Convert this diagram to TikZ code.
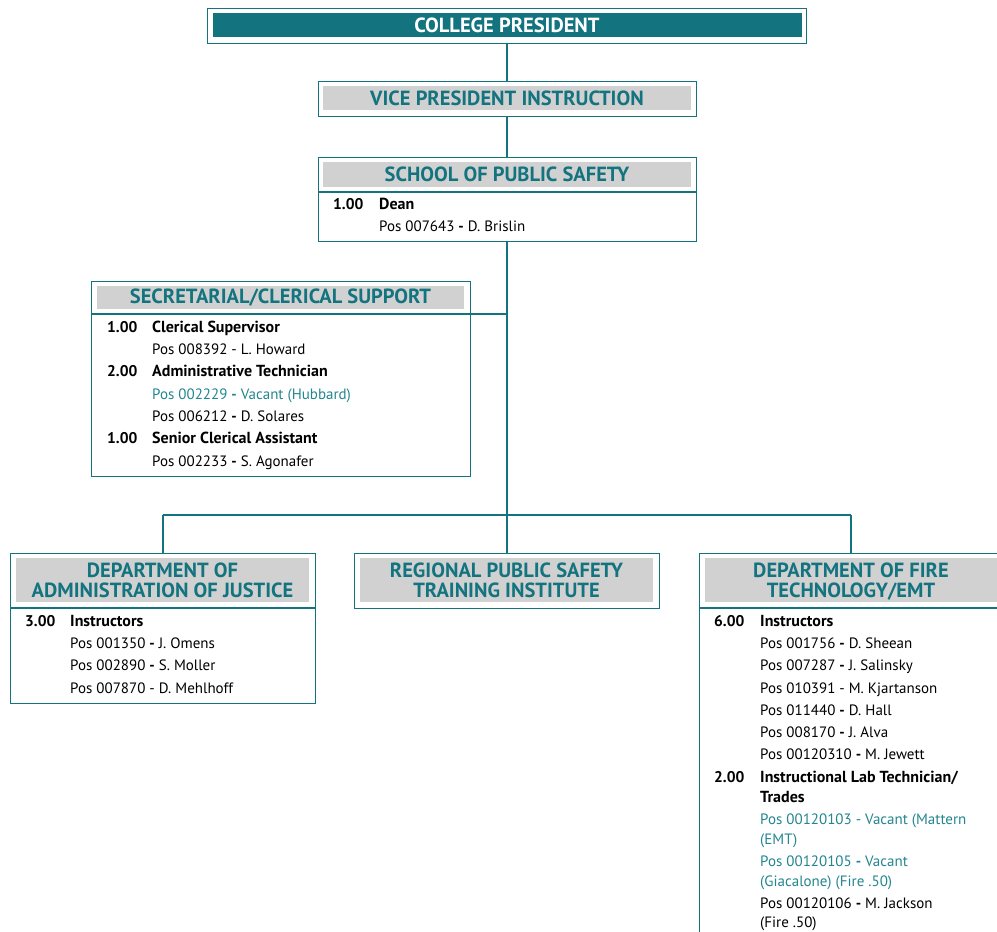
\documentclass[tikz,border=0pt]{standalone}
\usepackage{fontspec}
\setmainfont{PT Sans}
\definecolor{teal1}{HTML}{137480}
\definecolor{teal2}{HTML}{23858F}
\definecolor{gray1}{HTML}{D1D1D1}
\begin{document}
\begin{tikzpicture}[x=1pt,y=-1pt,
  box/.style={draw=teal1, line width=1pt, inner sep=0pt, outer sep=0pt, anchor=north west},
  hdr/.style={fill=gray1, anchor=north west, inner sep=0pt, outer sep=0pt, text=teal1, align=center,
    font=\bfseries\fontsize{20.5}{20}\selectfont},
  row/.style={anchor=base west, inner sep=0pt, font=\fontsize{15}{16}\selectfont},
  num/.style={row, font=\bfseries\fontsize{15.5}{16}\selectfont},
  ttl/.style={row, font=\bfseries\fontsize{16}{16}\selectfont},
  vac/.style={row, text=teal2},
  conn/.style={draw=teal1, line width=2pt},
  sep/.style={draw=teal1, line width=2pt}]
\useasboundingbox (0,0) rectangle (997,932);
\clip (0,0) rectangle (997,932);

% College president
\node[box, minimum width=599pt, minimum height=35pt] (cp) at (207.5,8) {};
\node[hdr, fill=teal1, text=white, minimum width=589pt, minimum height=24pt] (cpt) at (212.5,13) {COLLEGE PRESIDENT};

% VP
\node[box, minimum width=378pt, minimum height=35pt] (vp) at (318,81) {};
\node[hdr, minimum width=368pt, minimum height=24pt] (vpt) at (323,86) {VICE PRESIDENT INSTRUCTION};

% School
\node[box, minimum width=378pt, minimum height=84pt] (sch) at (318,157) {};
\node[hdr, minimum width=368pt, minimum height=25pt] (scht) at (323,162) {SCHOOL OF PUBLIC SAFETY};
\coordinate (schL) at (318,192);
\coordinate (schR) at (696,192);
\draw[sep] (schL) -- (schR);
\node[num] (d1) at (333,209) {1.00};
\node[ttl] (d2) at (379,209) {Dean};
\node[row] (d3) at (379,231) {Pos 007643 \textbf{-} D. Brislin};

% Connector junctions
\coordinate (bar) at (sch.south |- 0,515);
\coordinate (barL) at (163,515);
\coordinate (barR) at (851,515);

% Secretarial
\node[box, minimum width=379pt, minimum height=195pt] (sec) at (91,281) {};
\node[hdr, minimum width=367pt, minimum height=23pt] (sect) at (97,286) {SECRETARIAL/CLERICAL SUPPORT};
\coordinate (secL) at (91,314);
\coordinate (trunkS) at (sch.south |- 0,314);
\draw[sep] (secL) -- (trunkS);
\node[num] (s1n) at (107,332) {1.00};
\node[ttl] (s1t) at (152,332) {Clerical Supervisor};
\node[row] (s1a) at (152,354) {Pos 008392 - L. Howard};
\node[num] (s2n) at (107,376) {2.00};
\node[ttl] (s2t) at (152,376) {Administrative Technician};
\node[vac] (s2a) at (152,399) {Pos 002229 \textbf{-} Vacant (Hubbard)};
\node[row] (s2b) at (152,421) {Pos 006212 \textbf{-} D. Solares};
\node[num] (s3n) at (107,443) {1.00};
\node[ttl] (s3t) at (152,443) {Senior Clerical Assistant};
\node[row] (s3a) at (152,466) {Pos 002233 \textbf{-} S. Agonafer};

% Departments
\node[box, minimum width=305pt, minimum height=150pt] (adm) at (10,553) {};
\node[hdr, minimum width=293pt, minimum height=44pt, text depth=-3pt] (admt) at (16,558) {DEPARTMENT OF\\ADMINISTRATION OF JUSTICE};
\coordinate (admL) at (10,608);
\coordinate (admR) at (315,608);
\draw[sep] (admL) -- (admR);
\node[num] (a0n) at (25,626) {3.00};
\node[ttl] (a0t) at (70,626) {Instructors};
\node[row] (a1) at (70,648) {Pos 001350 \textbf{-} J. Omens};
\node[row] (a2) at (70,670) {Pos 002890 \textbf{-} S. Moller};
\node[row] (a3) at (70,693) {Pos 007870 - D. Mehlhoff};

\node[box, minimum width=305pt, minimum height=55pt] (reg) at (354,553) {};
\node[hdr, minimum width=293pt, minimum height=44pt, text depth=-3pt] (regt) at (360,558) {REGIONAL PUBLIC SAFETY\\TRAINING INSTITUTE};

\node[box, minimum width=320pt, minimum height=420pt] (fire) at (699,553) {};
\node[hdr, minimum width=310pt, minimum height=44pt, text depth=-3pt] (firet) at (705,558) {\hspace*{-18pt}DEPARTMENT OF FIRE\\\hspace*{-18pt}TECHNOLOGY/EMT};
\coordinate (fireL) at (699,608);
\coordinate (fireR) at (1000,608);
\draw[sep] (fireL) -- (fireR);
\node[num] (f0n) at (714,626) {6.00};
\node[ttl] (f0t) at (760,626) {Instructors};
\node[row] (f1) at (760,648) {Pos 001756 \textbf{-} D. Sheean};
\node[row] (f2) at (760,670) {Pos 007287 \textbf{-} J. Salinsky};
\node[row] (f3) at (760,693) {Pos 010391 - M. Kjartanson};
\node[row] (f4) at (760,715) {Pos 011440 \textbf{-} D. Hall};
\node[row] (f5) at (760,737) {Pos 008170 \textbf{-} J. Alva};
\node[row] (f6) at (760,759) {Pos 00120310 \textbf{-} M. Jewett};
\node[num] (f7n) at (714,782) {2.00};
\node[ttl] (f7t) at (760,782) {Instructional Lab Technician/};
\node[ttl] (f7u) at (760,802) {Trades};
\node[vac] (f8a) at (760,824) {Pos 00120103 - Vacant (Mattern};
\node[vac] (f8b) at (760,844) {(EMT)};
\node[vac] (f9a) at (760,866) {Pos 00120105 \textbf{-} Vacant};
\node[vac] (f9b) at (760,886) {(Giacalone) (Fire .50)};
\node[row] (f10a) at (760,908) {Pos 00120106 \textbf{-} M. Jackson};
\node[row] (f10b) at (760,927) {(Fire .50)};

% Connectors
\draw[conn] (cp.south -| vp.north) -- (vp.north);
\draw[conn] (vp.south) -- (sch.north);
\draw[conn] (sch.south) -- (bar);
\draw[conn] (barL) -- (barR);
\draw[conn] (barL) -- (barL |- adm.north);
\draw[conn] (bar) -- (reg.north -| bar);
\draw[conn] (barR) -- (barR |- fire.north);
\end{tikzpicture}
\end{document}
